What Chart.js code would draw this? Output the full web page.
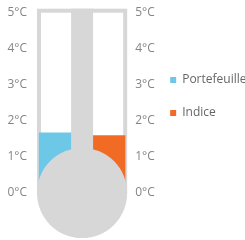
<!DOCTYPE html>
<html>
<head>
<meta charset="utf-8">
<script src="https://cdn.jsdelivr.net/npm/chart.js@4"></script>
<style>
    html, body { margin: 0; padding: 0; background: #fff; }
    #marco { width: 245px; height: 240px; }
</style>
</head>
<body>
<div id="marco"><canvas id="grafica"></canvas></div>
<script>
var SERIES = ['Portefeuille', 'Indice'];
var VALORES = [1.67, 1.6];
var COLORES = ['#6dc8e8', '#f26b24'];
var TICKS = [0, 1, 2, 3, 4, 5];
var UNIDAD = '°C';

var GRIS = '#d7d7d7';
var FUENTE = {family: '"Open Sans", sans-serif', size: 12};

function etiqueta(v) {
    return v + UNIDAD;
}

// Marco del termómetro: tubo, borde, columna central y bulbo.
var termometro = {
    id: 'termometro',
    afterLayout: function (chart) {
        // la leyenda va pegada a las etiquetas del eje derecho
        var ley = chart.legend;
        ley.left = chart.chartArea.right + 22;
        ley.right = chart.width;
        ley.width = ley.right - ley.left;
    },
    beforeDatasetsDraw: function (chart) {
        var ctx = chart.ctx;
        var a = chart.chartArea;
        var y = chart.scales.y;
        var arriba = y.getPixelForValue(TICKS[TICKS.length - 1]) - 3.5;
        var cero = y.getPixelForValue(TICKS[0]);

        ctx.save();
        ctx.fillStyle = GRIS;
        ctx.fillRect(a.left, arriba, a.right - a.left, cero - arriba);
        ctx.fillStyle = '#fff';
        ctx.fillRect(a.left + 4, arriba + 4, a.right - a.left - 8, cero - arriba - 4);
        ctx.restore();
    },
    afterDatasetsDraw: function (chart) {
        var ctx = chart.ctx;
        var a = chart.chartArea;
        var y = chart.scales.y;
        var arriba = y.getPixelForValue(TICKS[TICKS.length - 1]) - 3.5;
        var cero = y.getPixelForValue(TICKS[0]);
        var cx = (a.left + a.right) / 2;
        var r = (a.right - a.left) / 2;

        ctx.save();
        ctx.fillStyle = GRIS;
        ctx.fillRect(cx - 11, arriba, 22, cero - arriba);
        ctx.beginPath();
        ctx.arc(cx, cero, r, 0, Math.PI * 2);
        ctx.fill();
        ctx.restore();
    },
};

function eje(posicion, ancho, relleno) {
    return {
        position: posicion,
        min: TICKS[0],
        max: TICKS[TICKS.length - 1],
        afterBuildTicks: function (s) {
            s.ticks = TICKS.map(function (v) { return {value: v}; });
        },
        afterFit: function (s) {
            s.width = ancho;
        },
        ticks: {
            callback: etiqueta,
            color: '#858585',
            font: FUENTE,
            padding: relleno,
        },
        grid: {display: false, tickLength: 5},
        border: {display: false},
    };
}

new Chart(document.getElementById('grafica'), {
    type: 'bar',
    data: {
        labels: [''],
        datasets: SERIES.map(function (nombre, i) {
            return {
                label: nombre,
                data: [VALORES[i]],
                backgroundColor: COLORES[i],
                barPercentage: 1,
                categoryPercentage: 0.96,
            };
        }),
    },
    options: {
        responsive: true,
        maintainAspectRatio: false,
        animation: false,
        layout: {padding: {top: 0, bottom: 47, left: 0, right: 0}},
        plugins: {
            tooltip: {enabled: false},
            legend: {
                position: 'right',
                labels: {
                    boxWidth: 6,
                    boxHeight: 6,
                    padding: 21,
                    color: '#666',
                    font: FUENTE,
                },
            },
        },
        scales: {
            x: {display: false},
            y: eje('left', 37, 5),
            y2: eje('right', 77, 3),
        },
    },
    plugins: [termometro],
});
</script>
</body>
</html>
